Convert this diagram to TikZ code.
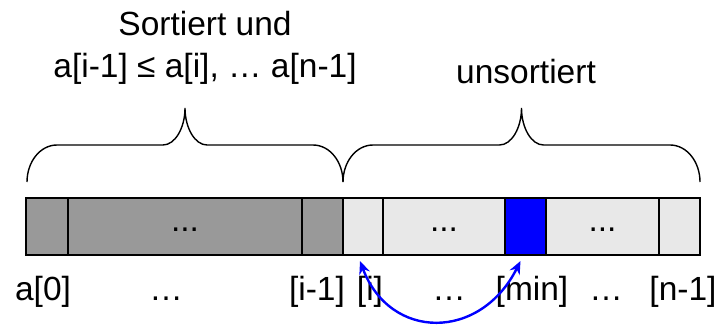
\documentclass[tikz,border=0pt]{standalone}
\usepackage{fontspec}
\setmainfont{Liberation Sans}
\usetikzlibrary{arrows.meta, positioning, calc}
\usepackage{xcolor}
\definecolor{SortedGray}{HTML}{999999}
\definecolor{OpenGray}{HTML}{E8E8E8}
\definecolor{MinBlue}{HTML}{0000FF}
\tikzset{
    % Cell styles - one box per array slot
    cell/.style={
        rectangle,
        draw=black,
        line width=1.3pt,
        minimum height=57pt,
        inner sep=0pt,
        outer sep=0pt,
        text height=10pt,
        text depth=0pt,
        font=\fontsize{33.5}{40}\selectfont
    },
    sortedcell/.style={cell, fill=SortedGray},
    opencell/.style={cell, fill=OpenGray},
    mincell/.style={cell, fill=MinBlue},
    % Text styles
    idxlabel/.style={
        anchor=base,
        inner sep=0pt,
        font=\fontsize{33.5}{40}\selectfont
    },
    headtext/.style={
        anchor=base,
        inner sep=0pt,
        align=center,
        font=\fontsize{33.5}{42}\selectfont
    },
    % Brace and swap arrow
    bracestyle/.style={
        line width=1.4pt,
        draw=black
    },
    swaparrow/.style={
        {Stealth[length=13pt,width=11pt]}-{Stealth[length=13pt,width=11pt]},
        line width=2.4pt,
        draw=MinBlue
    }
}
% curly brace between two points, tip in the middle
\newcommand{\curlybrace}[2]{%
  \draw[bracestyle] let \p1=(#1), \p2=(#2), \n1={0.5*(\x1+\x2)} in
    (\p1) .. controls (\x1, \y1+20) and (\x1+13, \y1+37) .. (\x1+30, \y1+37)
    -- (\n1-22, \y1+37) .. controls (\n1-10, \y1+37) and (\n1, \y1+54) .. (\n1, \y1+74)
    .. controls (\n1, \y1+54) and (\n1+10, \y1+37) .. (\n1+22, \y1+37)
    -- (\x2-30, \y2+37) .. controls (\x2-13, \y2+37) and (\x2, \y2+20) .. (\p2);
}

\begin{document}
\begin{tikzpicture}[x=1pt, y=1pt]
    \useasboundingbox (0,0) rectangle (722,325);

    % Array cells
    \node[sortedcell, anchor=west, minimum width=42pt] (c0) at (26,98.5) {};
    \node[sortedcell, right=0pt of c0, minimum width=234pt] (c1) {...};
    \node[sortedcell, right=0pt of c1, minimum width=41pt] (c2) {};
    \node[opencell, right=0pt of c2, minimum width=40pt] (c3) {};
    \node[opencell, right=0pt of c3, minimum width=122pt] (c4) {...};
    \node[mincell, right=0pt of c4, minimum width=41pt] (c5) {};
    \node[opencell, right=0pt of c5, minimum width=113pt] (c6) {...};
    \node[opencell, right=0pt of c6, minimum width=41pt] (c7) {};

    % Index labels
    \node[idxlabel] (l0) at (43,25) {a[0]};
    \node[idxlabel] (l1) at (166,25) {…};
    \node[idxlabel] (l2) at (317,25) {[i-1]};
    \node[idxlabel] (l3) at (370,25) {[i]};
    \node[idxlabel] (l4) at (449,25) {…};
    \node[idxlabel] (l5) at (532,25) {[min]};
    \node[idxlabel] (l6) at (606,25) {…};
    \node[idxlabel] (l7) at (683,25) {[n-1]};

    % Braces
    \curlybrace{$(c0.north west)+(1,16)$}{$(c2.north east)+(0,16)$}
    \curlybrace{$(c3.north west)+(0,16)$}{$(c7.north east)+(0,16)$}

    % Labels above
    \node[headtext] (sorted) at (205,248) {Sortiert und\\a[i-1] ≤ a[i], … a[n-1]};
    \node[headtext] (unsorted) at (526,242) {unsortiert};

    % Swap
    \draw[swaparrow] ([xshift=-3pt,yshift=-6pt]c3.south) .. controls +(30,-80) and +(-40,-80) .. ([xshift=-5pt,yshift=-6pt]c5.south);
\end{tikzpicture}
\end{document}
